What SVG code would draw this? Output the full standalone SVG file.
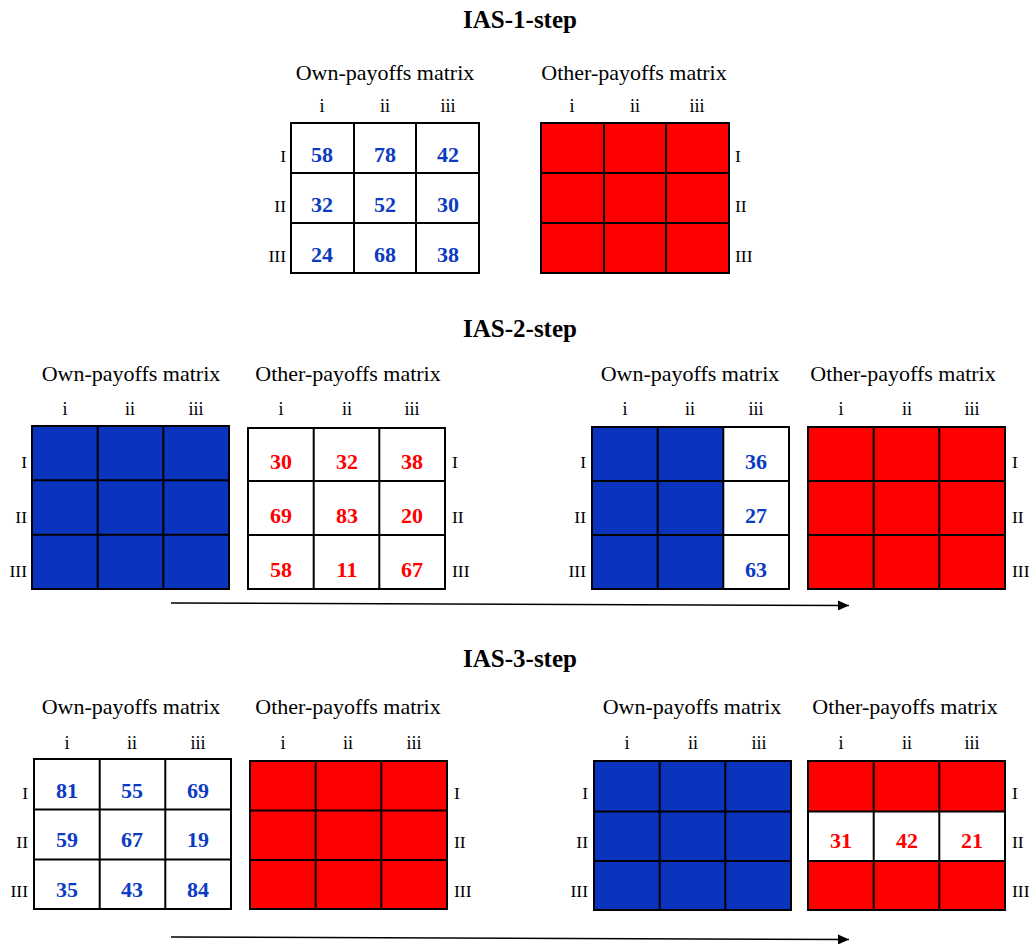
<svg xmlns="http://www.w3.org/2000/svg" width="1029" height="947" viewBox="0 0 1029 947">
<style>
text{font-family:"Liberation Serif","Times New Roman",serif;fill:#000}
.title{font-size:25px;font-weight:bold;text-anchor:middle}
.lbl{font-size:22px;text-anchor:middle}
.col{font-size:18px;text-anchor:middle}
.rowL{font-size:17.5px;text-anchor:end}
.rowR{font-size:17.5px;text-anchor:start}
.nb{font-size:22px;font-weight:bold;text-anchor:middle;fill:#0B3BC2}
.nr{font-size:22px;font-weight:bold;text-anchor:middle;fill:#FF0000}
.w{fill:#fff}
.b{fill:#0A33BE}
.r{fill:#FF0000}
.grid{fill:none;stroke:#000;stroke-width:2}
.conn{stroke:#000;stroke-width:1.6;fill:none}
</style>
<defs>
<marker id="ah" markerWidth="11" markerHeight="10" refX="11" refY="5" orient="auto" markerUnits="userSpaceOnUse">
<path d="M0,0 L11,5 L0,10 Z" fill="#000"/>
</marker>
</defs>
<rect width="1029" height="947" fill="#fff"/>

<text class="title" x="520" y="28">IAS-1-step</text>
<text class="title" x="520" y="337">IAS-2-step</text>
<text class="title" x="520" y="667">IAS-3-step</text>

<!-- Section 1 own -->
<g id="own1">
<text class="lbl" x="385" y="80">Own-payoffs matrix</text>
<text class="col" x="322" y="112">i</text><text class="col" x="385" y="112">ii</text><text class="col" x="448" y="112">iii</text>
<rect class="w" x="291" y="123" width="188" height="150"/>
<path class="grid" d="M291,123h188v150h-188z M354,123v150 M416,123v150 M291,173h188 M291,223h188"/>
<text class="rowL" x="286" y="162">I</text><text class="rowL" x="286" y="212">II</text><text class="rowL" x="286" y="262">III</text>
<text class="nb" x="322" y="162">58</text><text class="nb" x="385" y="162">78</text><text class="nb" x="448" y="162">42</text>
<text class="nb" x="322" y="212">32</text><text class="nb" x="385" y="212">52</text><text class="nb" x="448" y="212">30</text>
<text class="nb" x="322" y="262">24</text><text class="nb" x="385" y="262">68</text><text class="nb" x="448" y="262">38</text>
</g>

<g id="other1">
<text class="lbl" x="634" y="80">Other-payoffs matrix</text>
<text class="col" x="572" y="112">i</text><text class="col" x="635" y="112">ii</text><text class="col" x="697" y="112">iii</text>
<rect class="r" x="541" y="123" width="188" height="150"/>
<path class="grid" d="M541,123h188v150h-188z M604,123v150 M666,123v150 M541,173h188 M541,223h188"/>
<text class="rowR" x="735" y="162">I</text><text class="rowR" x="735" y="212">II</text><text class="rowR" x="735" y="262">III</text>
</g>

<!-- Section 2 -->
<g id="own2a">
<text class="lbl" x="131" y="381">Own-payoffs matrix</text>
<text class="col" x="65" y="415">i</text><text class="col" x="130" y="415">ii</text><text class="col" x="196" y="415">iii</text>
<rect class="b" x="32" y="426" width="197" height="163"/>
<path class="grid" d="M32,426h197v163h-197z M97.7,426v163 M163.3,426v163 M32,480.3h197 M32,534.7h197"/>
<text class="rowL" x="27" y="468">I</text><text class="rowL" x="27" y="523">II</text><text class="rowL" x="27" y="577">III</text>
</g>

<g id="other2a">
<text class="lbl" x="348" y="381">Other-payoffs matrix</text>
<text class="col" x="281" y="415">i</text><text class="col" x="347" y="415">ii</text><text class="col" x="412" y="415">iii</text>
<rect class="w" x="248" y="428" width="197" height="161"/>
<path class="grid" d="M248,428h197v161h-197z M313.7,428v161 M379.3,428v161 M248,481h197 M248,535h197"/>
<text class="rowR" x="452" y="468">I</text><text class="rowR" x="452" y="523">II</text><text class="rowR" x="452" y="577">III</text>
<text class="nr" x="281" y="469">30</text><text class="nr" x="347" y="469">32</text><text class="nr" x="412" y="469">38</text>
<text class="nr" x="281" y="523">69</text><text class="nr" x="347" y="523">83</text><text class="nr" x="412" y="523">20</text>
<text class="nr" x="281" y="577">58</text><text class="nr" x="347" y="577">11</text><text class="nr" x="412" y="577">67</text>
</g>

<g id="own2b">
<text class="lbl" x="690" y="381">Own-payoffs matrix</text>
<text class="col" x="625" y="415">i</text><text class="col" x="690" y="415">ii</text><text class="col" x="756" y="415">iii</text>
<rect class="b" x="592" y="427" width="197" height="162"/>
<rect class="w" x="723.3" y="427" width="65.7" height="162"/>
<path class="grid" d="M592,427h197v162h-197z M657.7,427v162 M723.3,427v162 M592,481h197 M592,535h197"/>
<text class="rowL" x="586" y="468">I</text><text class="rowL" x="586" y="523">II</text><text class="rowL" x="586" y="577">III</text>
<text class="nb" x="756" y="469">36</text><text class="nb" x="756" y="523">27</text><text class="nb" x="756" y="577">63</text>
</g>

<g id="other2b">
<text class="lbl" x="903" y="381">Other-payoffs matrix</text>
<text class="col" x="841" y="415">i</text><text class="col" x="907" y="415">ii</text><text class="col" x="972" y="415">iii</text>
<rect class="r" x="808" y="427" width="197" height="162"/>
<path class="grid" d="M808,427h197v162h-197z M873.7,427v162 M939.3,427v162 M808,481h197 M808,535h197"/>
<text class="rowR" x="1012" y="468">I</text><text class="rowR" x="1012" y="523">II</text><text class="rowR" x="1012" y="577">III</text>
</g>

<!-- Section 3 -->
<g id="own3a">
<text class="lbl" x="131" y="714">Own-payoffs matrix</text>
<text class="col" x="67" y="749">i</text><text class="col" x="132" y="749">ii</text><text class="col" x="198" y="749">iii</text>
<rect class="w" x="34" y="759" width="197" height="150"/>
<path class="grid" d="M34,759h197v150h-197z M99.7,759v150 M165.3,759v150 M34,809.5h197 M34,859.5h197"/>
<text class="rowL" x="28" y="799">I</text><text class="rowL" x="28" y="848">II</text><text class="rowL" x="28" y="897">III</text>
<text class="nb" x="67" y="798">81</text><text class="nb" x="132" y="798">55</text><text class="nb" x="198" y="798">69</text>
<text class="nb" x="67" y="847">59</text><text class="nb" x="132" y="847">67</text><text class="nb" x="198" y="847">19</text>
<text class="nb" x="67" y="897">35</text><text class="nb" x="132" y="897">43</text><text class="nb" x="198" y="897">84</text>
</g>

<g id="other3a">
<text class="lbl" x="348" y="714">Other-payoffs matrix</text>
<text class="col" x="283" y="749">i</text><text class="col" x="348" y="749">ii</text><text class="col" x="414" y="749">iii</text>
<rect class="r" x="250" y="761" width="197" height="148"/>
<path class="grid" d="M250,761h197v148h-197z M315.7,761v148 M381.3,761v148 M250,810.5h197 M250,860h197"/>
<text class="rowR" x="454" y="799">I</text><text class="rowR" x="454" y="848">II</text><text class="rowR" x="454" y="897">III</text>
</g>

<g id="own3b">
<text class="lbl" x="692" y="714">Own-payoffs matrix</text>
<text class="col" x="627" y="749">i</text><text class="col" x="693" y="749">ii</text><text class="col" x="759" y="749">iii</text>
<rect class="b" x="594" y="761" width="197" height="149"/>
<path class="grid" d="M594,761h197v149h-197z M659.7,761v149 M725.3,761v149 M594,811.5h197 M594,861h197"/>
<text class="rowL" x="588" y="799">I</text><text class="rowL" x="588" y="848">II</text><text class="rowL" x="588" y="897">III</text>
</g>

<g id="other3b">
<text class="lbl" x="905" y="714">Other-payoffs matrix</text>
<text class="col" x="841" y="749">i</text><text class="col" x="907" y="749">ii</text><text class="col" x="972" y="749">iii</text>
<rect class="r" x="808" y="761" width="197" height="149"/>
<rect class="w" x="808" y="811.5" width="197" height="49.5"/>
<path class="grid" d="M808,761h197v149h-197z M873.7,761v149 M939.3,761v149 M808,811.5h197 M808,861h197"/>
<text class="rowR" x="1012" y="799">I</text><text class="rowR" x="1012" y="848">II</text><text class="rowR" x="1012" y="897">III</text>
<text class="nr" x="841" y="848">31</text><text class="nr" x="907" y="848">42</text><text class="nr" x="972" y="848">21</text>
</g>

<g id="connectors">
<line class="conn" x1="171" y1="603" x2="849" y2="605.5" marker-end="url(#ah)"/>
<line class="conn" x1="171" y1="937" x2="849" y2="939.5" marker-end="url(#ah)"/>
</g>
</svg>
